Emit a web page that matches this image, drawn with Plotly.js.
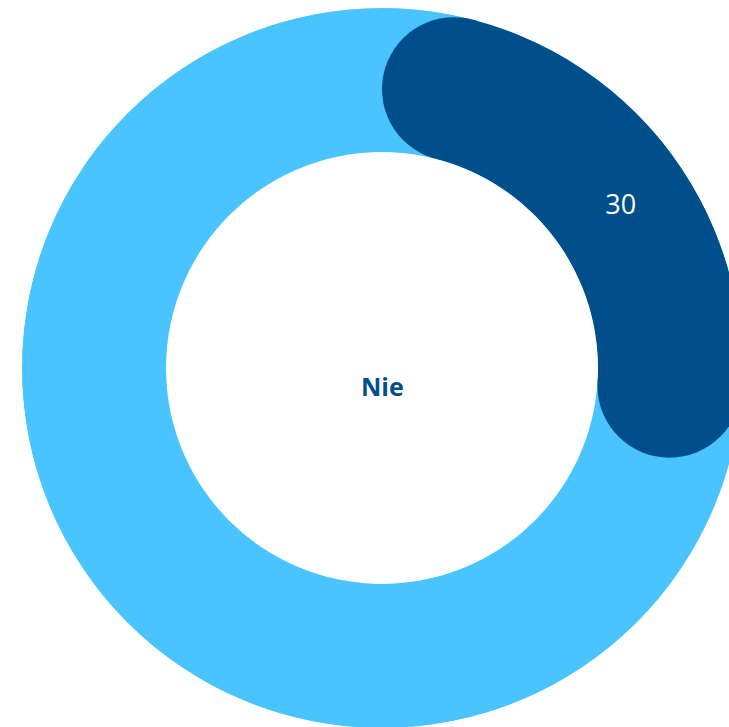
<!DOCTYPE html>
<html>
<head>
<meta charset="utf-8">
<script src="https://cdn.plot.ly/plotly-3.0.1.min.js"></script>
<style>
  html, body { margin: 0; padding: 0; overflow: hidden; background: #ffffff; }
  #chart { width: 760px; height: 740px; }
</style>
</head>
<body>
<div id="chart"></div>
<script>
// ---- data ----
const categories = ['Nie', 'Pozostałe'];
const values = [30, 70];
const valueLabels = ['30'];
const centerLabel = 'Nie';

// ---- style ----
const darkBlue = '#004E8A';
const lightBlue = '#49C4FF';
const hole = 0.6;

const total = values.reduce((a, b) => a + b, 0);
const spans = values.map(v => v / total * 360);
const starts = [];
let acc = 0;
spans.forEach(s => { starts.push(acc); acc += s; });
const mids = spans.map((s, i) => starts[i] + s / 2);

// rounded-cap geometry (in radial units where outer radius = 1)
const halfBand = (1 - hole) / 2;
const midR = hole + halfBand;
const capDeg = Math.asin(halfBand / midR) * 180 / Math.PI;

const W = 760, H = 740;
const ringPx = 360; // outer radius in px
const cx = 382, cy = 368;

const traces = [
  {
    type: 'barpolar',
    r: values.map(() => 1),
    theta: mids,
    width: spans,
    marker: { color: lightBlue, line: { width: 1, color: lightBlue } },
    hoverinfo: 'skip',
    showlegend: false
  },
  {
    type: 'barpolar',
    r: [1],
    theta: [mids[0]],
    width: [spans[0] - 2 * capDeg],
    marker: { color: darkBlue, line: { width: 0 } },
    hoverinfo: 'skip',
    showlegend: false
  },
  {
    type: 'scatterpolar',
    mode: 'markers',
    r: [0.5, 0.5],
    theta: [starts[0] + capDeg, starts[0] + spans[0] - capDeg],
    marker: { color: darkBlue, size: ringPx * (1 - hole), line: { width: 0 } },
    hoverinfo: 'skip',
    showlegend: false
  },
  {
    type: 'scatterpolar',
    mode: 'text',
    r: [0.5],
    theta: [mids[0] + 2],
    text: valueLabels,
    textposition: 'middle center',
    textfont: { family: 'Open Sans, sans-serif', size: 27, color: '#ffffff' },
    hoverinfo: 'skip',
    showlegend: false
  }
];

const layout = {
  width: W,
  height: H,
  margin: { l: 0, r: 0, t: 0, b: 0, pad: 0 },
  paper_bgcolor: '#ffffff',
  plot_bgcolor: '#ffffff',
  showlegend: false,
  polar: {
    domain: {
      x: [(cx - ringPx) / W, (cx + ringPx) / W],
      y: [(H - (cy + ringPx)) / H, (H - (cy - ringPx)) / H]
    },
    hole: hole,
    barmode: 'overlay',
    bgcolor: 'rgba(0,0,0,0)',
    radialaxis: { visible: false, range: [0, 1] },
    angularaxis: { visible: false, rotation: 90, direction: 'clockwise' }
  },
  annotations: [
    {
      text: '<b>' + centerLabel + '</b>',
      xref: 'paper', yref: 'paper',
      x: cx / W, y: (H - 386) / H,
      xanchor: 'center', yanchor: 'middle',
      showarrow: false,
      font: { family: 'Open Sans, sans-serif', size: 25, color: darkBlue }
    }
  ]
};

Plotly.newPlot('chart', traces, layout, { displayModeBar: false, staticPlot: true });
</script>
</body>
</html>
